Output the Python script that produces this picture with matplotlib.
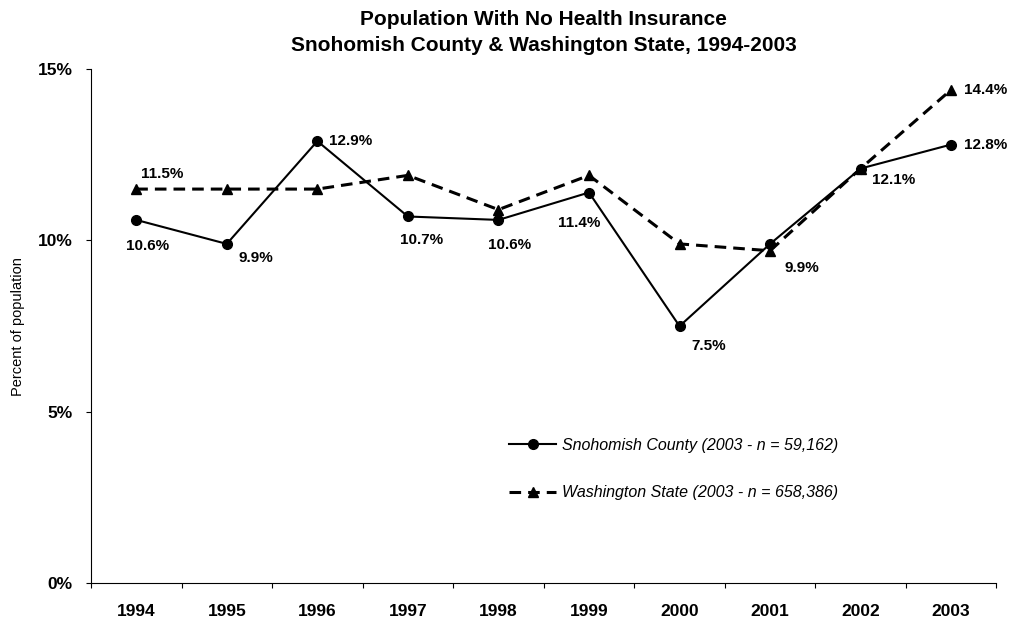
import matplotlib
matplotlib.use("Agg")
import matplotlib.pyplot as plt
from matplotlib.ticker import FixedLocator, FuncFormatter

plt.rcParams['font.family'] = ['Liberation Sans', 'DejaVu Sans']

years = ['1994', '1995', '1996', '1997', '1998', '1999', '2000', '2001', '2002', '2003']
snohomish = [10.6, 9.9, 12.9, 10.7, 10.6, 11.4, 7.5, 9.9, 12.1, 12.8]
washington = [11.5, 11.5, 11.5, 11.9, 10.9, 11.9, 9.9, 9.7, 12.1, 14.4]

snohomish_label = 'Snohomish County (2003 - n = 59,162)'
washington_label = 'Washington State (2003 - n = 658,386)'
title = 'Population With No Health Insurance\nSnohomish County & Washington State, 1994-2003'

# value-label offsets in points (dx, dy), keyed by year index
snoh_offsets = {0: (8, -19), 1: (21, -10), 2: (24, 0), 3: (10, -17), 4: (8, -18),
                5: (-7, -22), 6: (21, -14), 7: (23, -17), 8: (24, -8), 9: (25, 0)}
wa_offsets = {0: (19, 11), 9: (25, 0)}

fig = plt.figure(figsize=(10.22, 6.23), dpi=100)
ax = fig.add_axes([0.089, 0.064, 0.886, 0.825])

x = list(range(len(years)))
ax.plot(x, snohomish, color='black', lw=1.5, marker='o', ms=7,
        label=snohomish_label, zorder=3)
ax.plot(x, washington, color='black', lw=2.2, marker='^', ms=7.5,
        dashes=(3.8, 2.3), label=washington_label, zorder=2)

label_font = dict(fontsize=11, fontweight='bold')
for i, (dx, dy) in snoh_offsets.items():
    ax.annotate(f'{snohomish[i]:.1f}%', (x[i], snohomish[i]), xytext=(dx, dy),
                textcoords='offset points', ha='center', va='center',
                annotation_clip=False, **label_font)
for i, (dx, dy) in wa_offsets.items():
    ax.annotate(f'{washington[i]:.1f}%', (x[i], washington[i]), xytext=(dx, dy),
                textcoords='offset points', ha='center', va='center',
                annotation_clip=False, **label_font)

ax.set_xlim(-0.5, len(years) - 0.5)
ax.set_ylim(0, 15)
ax.set_xticks(x)
ax.set_xticklabels(years, fontsize=12.5, fontweight='bold')
ax.xaxis.set_minor_locator(FixedLocator([i - 0.5 for i in range(len(years) + 1)]))
ax.tick_params(axis='x', which='major', length=0, pad=15)
ax.tick_params(axis='x', which='minor', length=3.6, direction='out', width=0.8)
ax.set_yticks([0, 5, 10, 15])
ax.yaxis.set_major_formatter(FuncFormatter(lambda v, p: f'{v:.0f}%'))
ax.tick_params(axis='y', length=3.6, direction='out', width=0.8, pad=9.5)
for lab in ax.get_yticklabels():
    lab.set_fontweight('bold')
    lab.set_fontsize(12.5)
ax.set_ylabel('Percent of population', fontsize=10.5)
ax.yaxis.set_label_coords(-0.073, 0.5)

for side in ('top', 'right'):
    ax.spines[side].set_visible(False)
for side in ('left', 'bottom'):
    ax.spines[side].set_linewidth(0.8)

ax.set_title(title, fontsize=15, fontweight='bold', pad=13, linespacing=1.45)

ax.legend(loc='upper left', bbox_to_anchor=(0.462, 0.283), frameon=False,
          prop={'style': 'italic', 'size': 11.5}, handlelength=2.95,
          labelspacing=2.05, handletextpad=0.37, borderpad=0, borderaxespad=0)

fig.savefig('out.png', dpi=100)
